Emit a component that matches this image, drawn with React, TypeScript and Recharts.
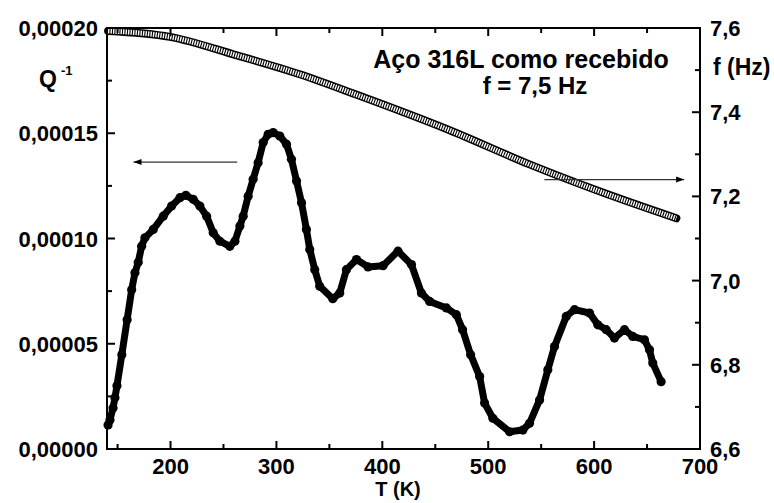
import React from 'react';
import { ComposedChart, Line, XAxis, YAxis, ReferenceLine } from 'recharts';

// Internal friction Q^-1 vs temperature (filled circles, left axis)
const qTemps = [141, 142.8, 145.7, 147.5, 149.4, 154, 159, 163.3, 166.4, 169.5, 172.7, 175.8, 183.7, 193.1, 201, 208.9, 214.5, 221.4, 227.7, 234.1, 240.3, 246.6, 256, 260.8, 265.5, 268.6, 273.3, 278, 282.7, 287.5, 292.2, 296.9, 303.2, 309.5, 314.2, 319, 323.7, 328.3, 331.5, 336.2, 340.9, 353.2, 359.8, 366.1, 375.6, 386.5, 400.7, 414.8, 427.5, 436.9, 444.7, 460.5, 469.9, 475.8, 483.4, 491.9, 496.6, 504.4, 520.2, 532.7, 539, 548.5, 556.3, 562.6, 573.7, 581.5, 595.7, 603.5, 611.4, 619.2, 628.7, 636.5, 647.5, 652.3, 655.4, 663.3];
const qValues = [0.0000114, 0.0000138, 0.0000195, 0.0000243, 0.00003, 0.0000448, 0.0000614, 0.0000757, 0.0000837, 0.0000887, 0.0000963, 0.0001003, 0.0001043, 0.0001106, 0.0001154, 0.0001194, 0.0001205, 0.0001186, 0.0001154, 0.0001106, 0.0001027, 0.0000987, 0.0000963, 0.0000987, 0.0001059, 0.0001106, 0.0001201, 0.0001281, 0.000136, 0.0001456, 0.0001495, 0.0001503, 0.0001487, 0.0001448, 0.0001376, 0.0001273, 0.000117, 0.0001043, 0.0000948, 0.0000852, 0.0000773, 0.0000714, 0.0000741, 0.0000852, 0.00009, 0.0000865, 0.0000871, 0.000094, 0.0000876, 0.0000741, 0.0000701, 0.000067, 0.0000638, 0.0000567, 0.0000448, 0.0000344, 0.0000218, 0.0000146, 0.0000082, 0.000009, 0.0000122, 0.0000233, 0.0000376, 0.0000487, 0.000063, 0.0000662, 0.0000646, 0.000059, 0.0000567, 0.0000527, 0.0000567, 0.0000535, 0.0000519, 0.0000471, 0.0000408, 0.000032];

// Frequency f vs temperature (open circles, right axis)
const fTemps = [141, 199.4, 262.6, 322, 374, 463.6, 539, 605, 677.7];
const fValues = [7.593, 7.579, 7.535, 7.49, 7.443, 7.357, 7.276, 7.212, 7.148];

const xMajorTicks = [200, 300, 400, 500, 600, 700];
const xMinorTicks = [150, 250, 350, 450, 550, 650];
const qMajorTicks = [0, 0.00005, 0.0001, 0.00015, 0.0002];
const qMinorTicks = [0.000025, 0.000075, 0.000125, 0.000175];
const fMajorTicks = [6.6, 6.8, 7.0, 7.2, 7.4, 7.6];
const fMinorTicks = [6.7, 6.9, 7.1, 7.3, 7.5];

const xDomain = [140, 700];
const qDomain = [0, 0.0002];
const fDomain = [6.6, 7.6];

const titleText = 'Aço 316L como recebido';
const freqText = 'f = 7,5 Hz';

const qData = qTemps.map((T, i) => ({ T, q: qValues[i] }));
const fData = fTemps.map((T, i) => ({ T, f: fValues[i] }));

// layout
const W = 774;
const H = 503;
const MARGIN_TOP = 28;
const X_AXIS_H = 54;
const LEFT_AXIS_W = 107;
const RIGHT_AXIS_W = 74;
const PL = LEFT_AXIS_W;
const PR = W - RIGHT_AXIS_W;
const PT = MARGIN_TOP;
const PB = H - X_AXIS_H;

const FONT = '"Liberation Sans", Arial, Helvetica, sans-serif';
const TICK_FS = 22;
const MAJOR_LEN = 8;
const MINOR_LEN = 5;

const isMajor = (v: number, majors: number[], tol: number) => majors.some((m) => Math.abs(m - v) < tol);
const sortNum = (a: number[]) => [...a].sort((p, q) => p - q);

// linear maps matching the chart's linear axes (used for the frame tick marks)
const sx = (t: number) => PL + ((t - xDomain[0]) / (xDomain[1] - xDomain[0])) * (PR - PL);
const syQ = (v: number) => PB - ((v - qDomain[0]) / (qDomain[1] - qDomain[0])) * (PB - PT);
const syF = (v: number) => PB - ((v - fDomain[0]) / (fDomain[1] - fDomain[0])) * (PB - PT);

const BottomTick = (props: any) => {
  const { x, y, payload } = props;
  if (!isMajor(payload.value, xMajorTicks, 1e-6)) return <g />;
  return (
    <text x={x} y={y + 25} textAnchor="middle" fontFamily={FONT} fontWeight="bold" fontSize={TICK_FS} fill="#000">
      {String(payload.value)}
    </text>
  );
};

const LeftTick = (props: any) => {
  const { x, y, payload } = props;
  if (!isMajor(payload.value, qMajorTicks, 1e-9)) return <g />;
  return (
    <text x={x - 9} y={y + 8} textAnchor="end" fontFamily={FONT} fontWeight="bold" fontSize={TICK_FS} fill="#000">
      {Number(payload.value).toFixed(5).replace('.', ',')}
    </text>
  );
};

const RightTick = (props: any) => {
  const { x, y, payload } = props;
  if (!isMajor(payload.value, fMajorTicks, 1e-6)) return <g />;
  return (
    <text x={x + 10} y={y + 8} textAnchor="start" fontFamily={FONT} fontWeight="bold" fontSize={TICK_FS} fill="#000">
      {Number(payload.value).toFixed(1).replace('.', ',')}
    </text>
  );
};

const makeArrow = (headAtLeft: boolean) => (props: any) => {
  const { x1, y1, x2, y2 } = props;
  const left = Math.min(x1, x2);
  const right = Math.max(x1, x2);
  const y = (y1 + y2) / 2;
  const hx = headAtLeft ? left : right;
  const d = headAtLeft ? 1 : -1;
  return (
    <g>
      <line x1={left} y1={y} x2={right} y2={y} stroke="#333" strokeWidth={1.3} />
      <path d={`M${hx},${y} L${hx + d * 8},${y - 3} L${hx + d * 8},${y + 3} Z`} fill="#000" />
    </g>
  );
};

const ArrowLeft = makeArrow(true);
const ArrowRight = makeArrow(false);

export default function App() {
  const xTicksAll = sortNum([...xMajorTicks, ...xMinorTicks]);
  return (
    <div style={{ position: 'absolute', left: 0, top: 0, width: W, height: H, background: '#fff' }}>
      <ComposedChart width={W} height={H} margin={{ top: MARGIN_TOP, right: 0, bottom: 0, left: 0 }}>
        <XAxis
          xAxisId="b"
          type="number"
          dataKey="T"
          domain={xDomain}
          ticks={xTicksAll}
          interval={0}
          height={X_AXIS_H}
          tickSize={0}
          tickMargin={0}
          tickLine={false}
          axisLine={false}
          tick={<BottomTick />}
        />
        <YAxis
          yAxisId="q"
          type="number"
          domain={qDomain}
          ticks={sortNum([...qMajorTicks, ...qMinorTicks])}
          interval={0}
          width={LEFT_AXIS_W}
          tickSize={0}
          tickMargin={0}
          tickLine={false}
          axisLine={false}
          tick={<LeftTick />}
        />
        <YAxis
          yAxisId="f"
          orientation="right"
          type="number"
          domain={fDomain}
          ticks={sortNum([...fMajorTicks, ...fMinorTicks])}
          interval={0}
          width={RIGHT_AXIS_W}
          tickSize={0}
          tickMargin={0}
          tickLine={false}
          axisLine={false}
          tick={<RightTick />}
        />
        <Line
          xAxisId="b"
          yAxisId="f"
          data={fData}
          dataKey="f"
          type="monotone"
          stroke="#000"
          strokeWidth={8}
          strokeLinecap="round"
          dot={false}
          isAnimationActive={false}
        />
        <Line
          xAxisId="b"
          yAxisId="f"
          data={fData}
          dataKey="f"
          type="monotone"
          stroke="#fff"
          strokeWidth={5}
          strokeDasharray="1.4 1.1"
          dot={false}
          isAnimationActive={false}
        />
        <Line
          xAxisId="b"
          yAxisId="q"
          data={qData}
          dataKey="q"
          type="linear"
          stroke="#000"
          strokeWidth={7}
          strokeLinejoin="round"
          strokeLinecap="round"
          dot={{ r: 4.6, fill: '#000', stroke: '#000', strokeWidth: 0 }}
          isAnimationActive={false}
        />
        <ReferenceLine
          ifOverflow="visible"
          xAxisId="b"
          yAxisId="q"
          segment={[{ x: 165, y: 0.0001363 }, { x: 263, y: 0.0001363 }]}
          shape={ArrowLeft}
        />
        <ReferenceLine
          ifOverflow="visible"
          xAxisId="b"
          yAxisId="q"
          segment={[{ x: 553, y: 0.000128 }, { x: 685, y: 0.000128 }]}
          shape={ArrowRight}
        />
      </ComposedChart>
      <svg
        width={W}
        height={H}
        style={{ position: 'absolute', left: 0, top: 0, pointerEvents: 'none' }}
        fontFamily={FONT}
        fontWeight="bold"
      >
        {/* frame */}
        <rect x={PL} y={PT} width={PR - PL} height={PB - PT} fill="none" stroke="#000" strokeWidth={2} />
        {/* inward tick marks, bottom and top */}
        {xTicksAll.map((t) => {
          const len = isMajor(t, xMajorTicks, 1e-6) ? MAJOR_LEN : MINOR_LEN;
          const x = sx(t);
          return (
            <g key={`xt${t}`}>
              <line x1={x} y1={PB} x2={x} y2={PB - len} stroke="#000" strokeWidth={2} />
              <line x1={x} y1={PT} x2={x} y2={PT + len} stroke="#000" strokeWidth={2} />
            </g>
          );
        })}
        {/* left axis tick marks */}
        {sortNum([...qMajorTicks, ...qMinorTicks]).map((v, i) => {
          const len = isMajor(v, qMajorTicks, 1e-9) ? MAJOR_LEN : MINOR_LEN;
          const y = syQ(v);
          return <line key={`qt${i}`} x1={PL} y1={y} x2={PL + len} y2={y} stroke="#000" strokeWidth={2} />;
        })}
        {/* right axis tick marks */}
        {sortNum([...fMajorTicks, ...fMinorTicks]).map((v, i) => {
          const len = isMajor(v, fMajorTicks, 1e-6) ? MAJOR_LEN : MINOR_LEN;
          const y = syF(v);
          return <line key={`ft${i}`} x1={PR} y1={y} x2={PR - len} y2={y} stroke="#000" strokeWidth={2} />;
        })}
        <g fill="#000">
          <text x={521} y={68} textAnchor="middle" fontSize={25}>{titleText}</text>
          <text x={535} y={94} textAnchor="middle" fontSize={24}>{freqText}</text>
          <text x={713} y={75} fontSize={23}>f (Hz)</text>
          <text x={39} y={87} fontSize={23}>Q</text>
          <text x={61} y={75} fontSize={13}>-1</text>
          <text x={398} y={496} textAnchor="middle" fontSize={20}>T (K)</text>
        </g>
      </svg>
    </div>
  );
}
